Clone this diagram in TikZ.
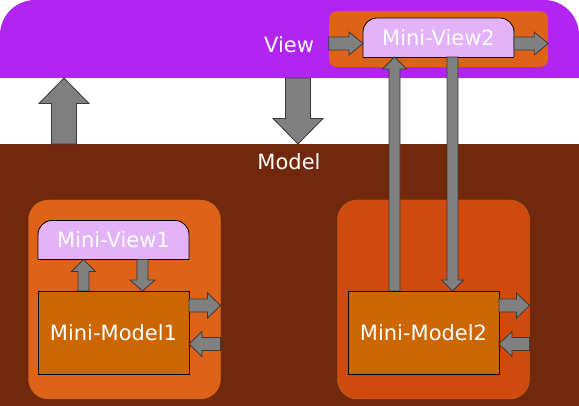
\documentclass[tikz,border=0pt]{standalone}
\usepackage{fontspec}
\setmainfont{DejaVu Sans}
\usepackage{xcolor}
\usetikzlibrary{shapes,arrows,positioning,calc}

\definecolor{viewpurple}{HTML}{B224F0}
\definecolor{modelbrown}{HTML}{72280C}
\definecolor{boxorange}{HTML}{DE6218}
\definecolor{boxred}{HTML}{D04A0E}
\definecolor{boxedge}{HTML}{C0701C}
\definecolor{mmorange}{HTML}{CC6600}
\definecolor{mvlilac}{HTML}{E4B2F8}
\definecolor{arrowgray}{HTML}{808080}
\definecolor{arrowedge}{HTML}{3A3A3A}

% mini view: box with rounded top corners, then its label node on top
\newcommand{\miniview}[3]{%
  \begin{scope}[shift={(#2)}]
    \draw [fill=mvlilac, line width=0.8pt, rounded corners=14pt] (-75.5,19.5) |- (0,-19.5) -| (75.5,19.5);
    \draw [line width=0.8pt] (-75.5,19.5) -- (75.5,19.5);
  \end{scope}
  \node [mviewtext] (#1) at (#2) {#3};}

\begin{document}
\begin{tikzpicture}[x=1pt, y=-1pt, node distance=32pt]
            \tikzstyle{band} = [rectangle, inner sep=0pt, outer sep=0pt, minimum width=579pt, anchor=north west]
            \tikzstyle{container} = [rectangle, rounded corners=20pt, draw=boxedge, inner sep=0pt, outer sep=0pt, minimum width=192pt, minimum height=199pt]
            \tikzstyle{minimodel} = [rectangle, draw, line width=0.8pt, fill=mmorange, text=white, inner sep=0pt, outer sep=0pt, minimum width=151pt, minimum height=83pt, font=\fontsize{21pt}{25pt}\selectfont]
            \tikzstyle{mviewtext} = [rectangle, text=white, inner sep=0pt, outer sep=0pt, minimum width=151pt, minimum height=39pt, font=\fontsize{21pt}{25pt}\selectfont]
            \tikzstyle{bandtext} = [text=white, font=\fontsize{21pt}{25pt}\selectfont]
            \tikzset{blk/.style n args={3}{draw=arrowedge, fill=arrowgray, line width=0.8pt, to path={
                ($(\tikztostart)!#1!90:(\tikztotarget)$) --
                ($(\tikztotarget)!#3!(\tikztostart)!#1!90:(\tikztotarget)$) --
                ($(\tikztotarget)!#3!(\tikztostart)!#2!90:(\tikztotarget)$) --
                (\tikztotarget) --
                ($(\tikztotarget)!#3!(\tikztostart)!#2!-90:(\tikztotarget)$) --
                ($(\tikztotarget)!#3!(\tikztostart)!#1!-90:(\tikztotarget)$) --
                ($(\tikztostart)!#1!-90:(\tikztotarget)$) -- cycle}}}

            \useasboundingbox (0,0) rectangle (579,406);

            \node [band, fill=white, minimum height=78pt, path picture={\fill[viewpurple, rounded corners=35pt] (path picture bounding box.north west) rectangle ([yshift=-60pt]path picture bounding box.south east);}] (view) at (0,0) {};
            \node [band, fill=modelbrown, minimum height=262pt] (model) at (0,144) {};

            \node [rectangle, rounded corners=8pt, fill=boxorange, minimum width=219pt, minimum height=56pt] (cv) at (438.5,39) {};
            \node [container, fill=boxorange] (c1) at (124.5,299.5) {};
            \node [container, right=117pt of c1, fill=boxred] (c2) {};

            \node [minimodel] (mm1) at (113.5,332.5) {Mini-Model1};
            \node [minimodel, right=159pt of mm1] (mm2) {Mini-Model2};

            \miniview{mv1}{113.5,240}{Mini-View1}
            \miniview{mv2}{438.5,37.5}{Mini-View2}

            \node [bandtext] (viewlabel) at (289,45) {View};
            \node [bandtext] (modellabel) at (289,162) {Model};

            \draw [blk={12.5pt}{25pt}{25.5pt}] ([xshift=64pt]model.north west) to ([xshift=64pt]view.south west);
            \draw [blk={12.5pt}{25pt}{25.5pt}] ([xshift=298pt]view.south west) to ([xshift=298pt]model.north west);

            \draw [blk={5.5pt}{12pt}{12pt}] ([xshift=45.5pt]mm1.north west) to ([xshift=45.5pt]mv1.south west);
            \draw [blk={5.5pt}{12.5pt}{11pt}] ([xshift=104.5pt]mv1.south west) to ([xshift=104.5pt]mm1.north west);
            \draw [blk={6.5pt}{12.5pt}{13pt}] ([yshift=27pt]mm1.east) to ([yshift=-6pt]c1.east);
            \draw [blk={6.5pt}{12.5pt}{13pt}] ([yshift=-44.5pt]c1.east) to ([yshift=-11.5pt]mm1.east);

            \draw [blk={5.5pt}{12pt}{12pt}] ([xshift=46.5pt]mm2.north west) to ([xshift=31.5pt]mv2.south west);
            \draw [blk={5.5pt}{11pt}{11pt}] ([xshift=89.5pt]mv2.south west) to ([xshift=104.5pt]mm2.north west);
            \draw [blk={6.5pt}{12.5pt}{13pt}] ([yshift=27pt]mm2.east) to ([yshift=-6pt]c2.east);
            \draw [blk={6.5pt}{12.5pt}{13pt}] ([yshift=-44.5pt]c2.east) to ([yshift=-11.5pt]mm2.east);

            \draw [blk={6.5pt}{11.5pt}{14pt}] ([yshift=-4.5pt]cv.west) to ([yshift=-6pt]mv2.west);
            \draw [blk={6.5pt}{11.5pt}{14pt}] ([yshift=-6pt]mv2.east) to ([yshift=-4.5pt]cv.east);
        \end{tikzpicture}
\end{document}
